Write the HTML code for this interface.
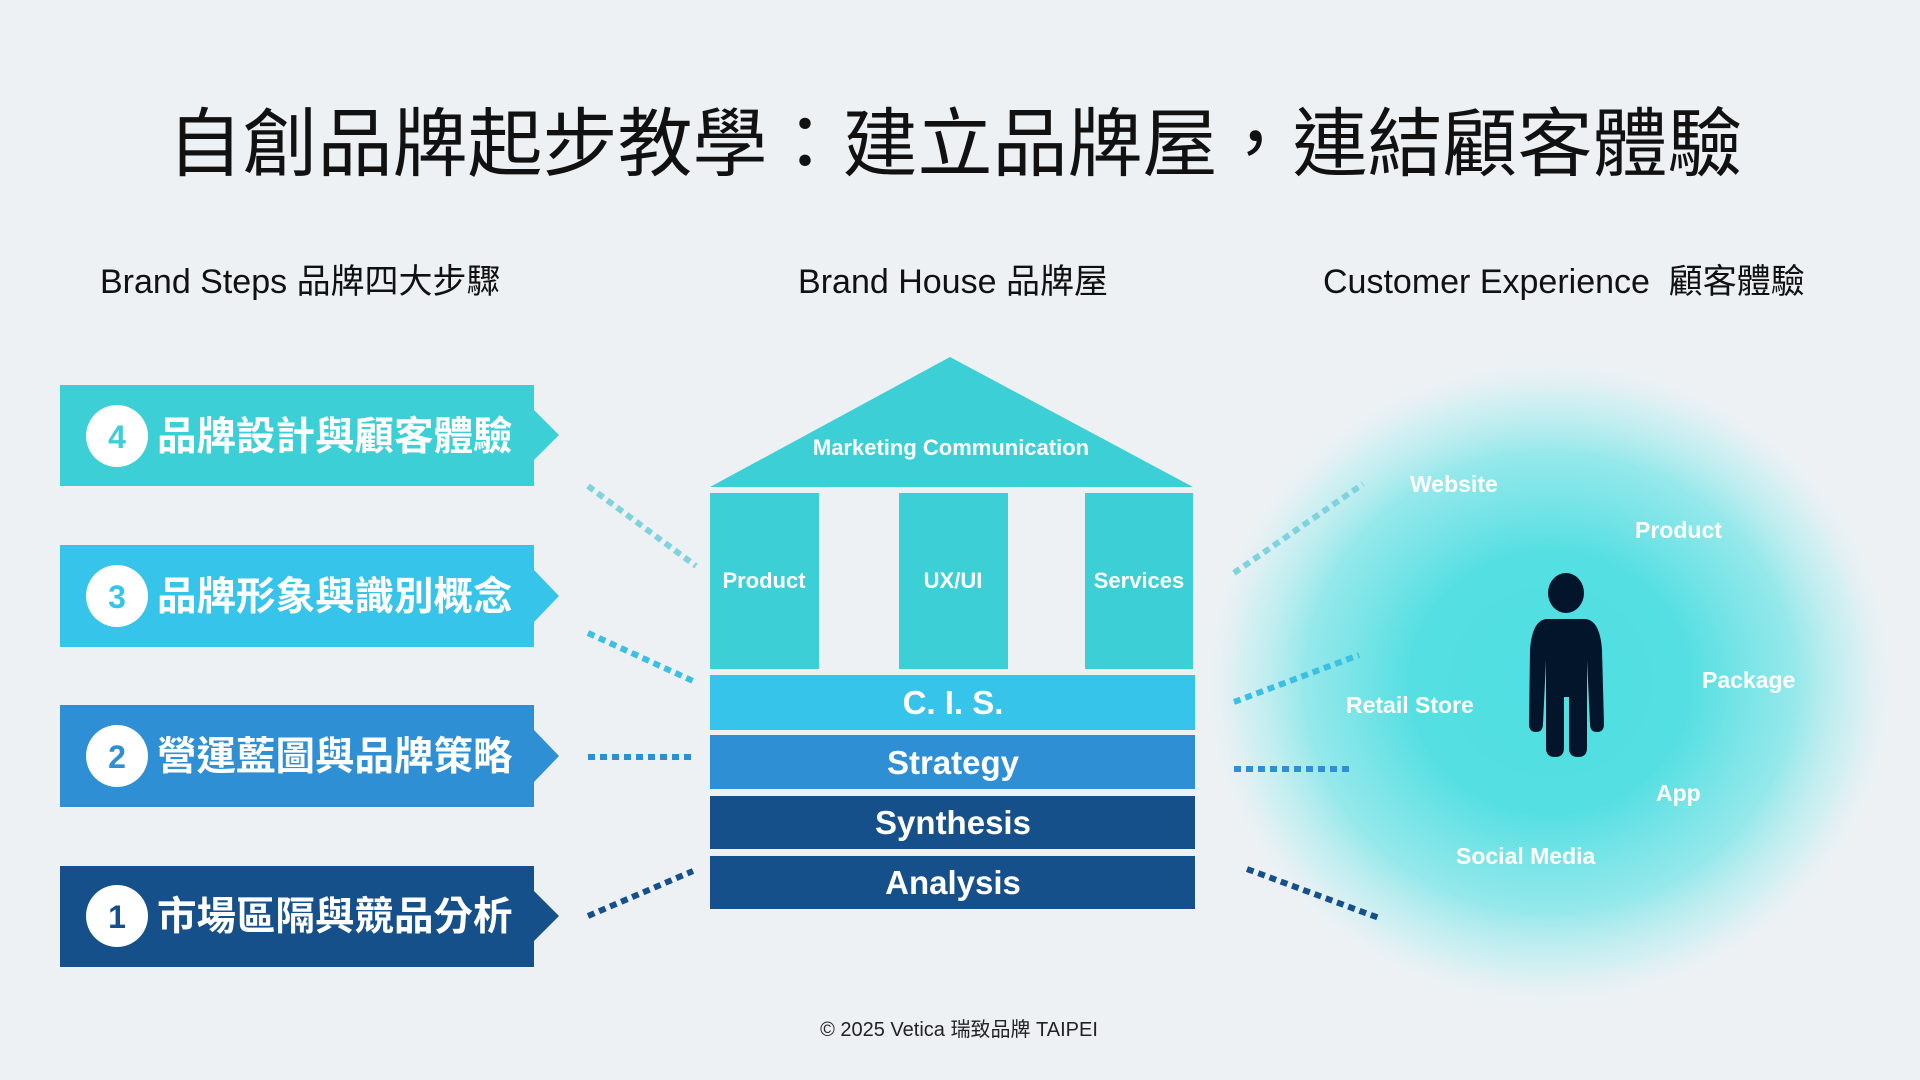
<!DOCTYPE html>
<html><head><meta charset="utf-8"><style>
html,body{margin:0;padding:0;background:#edf1f4;}
svg{display:block}
</style></head><body>
<svg width="1920" height="1080" viewBox="0 0 1920 1080" xmlns="http://www.w3.org/2000/svg" font-family="'Liberation Sans','Noto Sans CJK TC',sans-serif">
<defs>
<radialGradient id="g" cx="0.5" cy="0.5" r="0.5">
<stop offset="0" stop-color="#4fdfe2" stop-opacity="1"/>
<stop offset="0.4" stop-color="#55dfe2" stop-opacity="1"/>
<stop offset="0.7" stop-color="#7fe6e8" stop-opacity="0.8"/>
<stop offset="0.88" stop-color="#b5eef0" stop-opacity="0.45"/>
<stop offset="1" stop-color="#edf1f4" stop-opacity="0"/>
</radialGradient>
</defs>
<rect width="1920" height="1080" fill="#edf1f4"/>
<text x="955" y="170" text-anchor="middle" font-size="75" fill="#111">自創品牌起步教學：建立品牌屋，連結顧客體驗</text>
<text x="100" y="293" font-size="34" fill="#111">Brand Steps 品牌四大步驟</text>
<text x="953" y="293" text-anchor="middle" font-size="34" fill="#111">Brand House 品牌屋</text>
<text x="1323" y="293" font-size="34" fill="#111" xml:space="preserve">Customer Experience  顧客體驗</text>

<g font-weight="bold">
<polygon points="60,385 534,385 534,410 559,435 534,460 534,486 60,486" fill="#3ccfd5"/>
<circle cx="117" cy="436" r="31" fill="#fff"/><text x="117" y="448" text-anchor="middle" font-size="32" fill="#3ccfd5">4</text>
<text x="157" y="450" font-size="39.5" fill="#fff">品牌設計與顧客體驗</text>
<polygon points="60,545 534,545 534,570 559,596 534,622 534,647 60,647" fill="#36c4ea"/>
<circle cx="117" cy="596" r="31" fill="#fff"/><text x="117" y="608" text-anchor="middle" font-size="32" fill="#36c4ea">3</text>
<text x="157" y="610" font-size="39.5" fill="#fff">品牌形象與識別概念</text>
<polygon points="60,705 534,705 534,730 559,756 534,782 534,807 60,807" fill="#2e8fd4"/>
<circle cx="117" cy="756" r="31" fill="#fff"/><text x="117" y="768" text-anchor="middle" font-size="32" fill="#2e8fd4">2</text>
<text x="157" y="770" font-size="39.5" fill="#fff">營運藍圖與品牌策略</text>
<polygon points="60,866 534,866 534,891 559,916 534,941 534,967 60,967" fill="#16508a"/>
<circle cx="117" cy="916" r="31" fill="#fff"/><text x="117" y="928" text-anchor="middle" font-size="32" fill="#16508a">1</text>
<text x="157" y="930" font-size="39.5" fill="#fff">市場區隔與競品分析</text>
</g>

<g stroke-width="6" stroke-dasharray="7 5" fill="none">
<line x1="588" y1="486" x2="696" y2="566" stroke="#7fd3dd"/>
<line x1="588" y1="633" x2="693" y2="681" stroke="#3bbfe3"/>
<line x1="588" y1="757" x2="693" y2="757" stroke="#2e8fd4"/>
<line x1="588" y1="916" x2="693" y2="871" stroke="#16508a"/>
</g>

<rect x="1200" y="355" width="700" height="655" fill="url(#g)"/>
<g stroke-width="6" stroke-dasharray="7 5" fill="none">
<line x1="1234" y1="573" x2="1363" y2="484" stroke="#7fd3dd"/>
<line x1="1234" y1="702" x2="1359" y2="655" stroke="#3bbfe3"/>
<line x1="1234" y1="769" x2="1354" y2="769" stroke="#2e8fd4"/>
<line x1="1247" y1="869" x2="1379" y2="918" stroke="#16508a"/>
</g>

<polygon points="950,357 1193,487 710,487" fill="#3ccfd5"/>
<text x="951" y="455" text-anchor="middle" font-size="22" font-weight="bold" fill="#fff">Marketing Communication</text>
<rect x="710" y="493" width="109" height="176" fill="#3ccfd5"/>
<rect x="899" y="493" width="109" height="176" fill="#3ccfd5"/>
<rect x="1085" y="493" width="108" height="176" fill="#3ccfd5"/>
<g font-size="22" font-weight="bold" fill="#fff" text-anchor="middle">
<text x="764" y="588">Product</text>
<text x="953" y="588">UX/UI</text>
<text x="1139" y="588">Services</text>
</g>
<rect x="710" y="675" width="485" height="55" fill="#36c4ea"/>
<rect x="710" y="735" width="485" height="54" fill="#2e8fd4"/>
<rect x="710" y="796" width="485" height="53" fill="#16508a"/>
<rect x="710" y="856" width="485" height="53" fill="#16508a"/>
<g font-size="33" font-weight="bold" fill="#fff" text-anchor="middle">
<text x="953" y="714">C. I. S.</text>
<text x="953" y="774">Strategy</text>
<text x="953" y="834">Synthesis</text>
<text x="953" y="894">Analysis</text>
</g>

<!-- person -->
<g fill="#03152b">
<ellipse cx="1566" cy="593" rx="18" ry="20"/>
<path d="M1546,619 L1586,619 Q1600,621 1602,650 L1604,724 Q1604,732 1597,732 Q1590,732 1590,724 L1587,660 L1587,748 Q1587,757 1578,757 Q1569,757 1569,748 L1569,697 L1564,697 L1564,748 Q1564,757 1555,757 Q1546,757 1546,748 L1546,660 L1543,724 Q1543,732 1536,732 Q1529,732 1529,724 L1530,650 Q1532,621 1546,619 Z"/>
</g>

<g font-size="23" font-weight="bold" fill="#fff">
<text x="1410" y="492">Website</text>
<text x="1635" y="538">Product</text>
<text x="1702" y="688">Package</text>
<text x="1346" y="713">Retail Store</text>
<text x="1656" y="801">App</text>
<text x="1456" y="864">Social Media</text>
</g>

<text x="959" y="1036" text-anchor="middle" font-size="20" fill="#222">© 2025 Vetica 瑞致品牌 TAIPEI</text>
</svg>
</body></html>
